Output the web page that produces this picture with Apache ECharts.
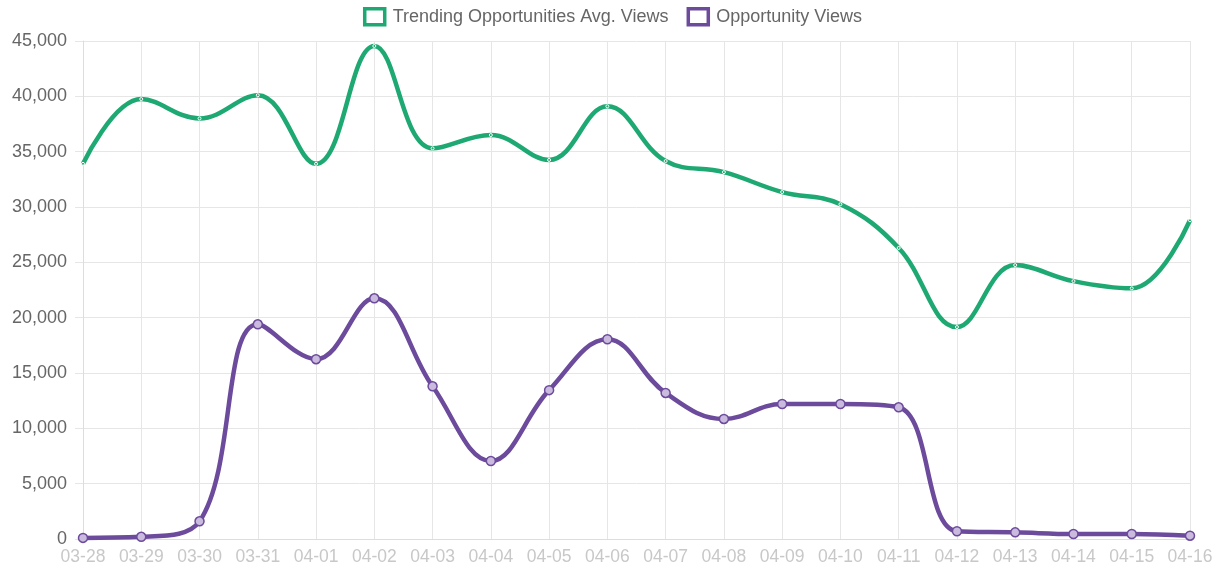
<!DOCTYPE html>
<html>
<head>
<meta charset="utf-8">
<script src="https://cdn.jsdelivr.net/npm/echarts@6/dist/echarts.min.js"></script>
<style>html,body{margin:0;padding:0;background:#fff;}#c{width:1225px;height:577px;}</style>
</head>
<body>
<div id="c"></div>
<script>
const categories = ['03-28','03-29','03-30','03-31','04-01','04-02','04-03','04-04','04-05','04-06','04-07','04-08','04-09','04-10','04-11','04-12','04-13','04-14','04-15','04-16'];
const trendingAvgViews = [33900,39750,38000,40100,33900,44550,35300,36500,34250,39100,34150,33150,31350,30250,26300,19150,24750,23300,22650,28800];
const opportunityViews = [100,200,1600,19400,16250,21750,13800,7050,13450,18050,13200,10850,12200,12200,11900,700,600,450,450,300];
const seriesNames = ['Trending Opportunities Avg. Views','Opportunity Views'];

const green = '#1ea872';
const purple = '#6c4a9c';
const font = 'Arial, Liberation Sans, sans-serif';
const chart = echarts.init(document.getElementById('c'));
chart.setOption({
  animation: false,
  legend: {
    top: 2, left: 'center', itemWidth: 20, itemHeight: 16, itemGap: 18,
    textStyle: { fontSize: 18, color: '#666', fontFamily: font, padding: [0, 0, 0, 3] },
    data: [
      { name: seriesNames[0], icon: 'rect', itemStyle: { color: '#fff', borderColor: green, borderWidth: 3.5 } },
      { name: seriesNames[1], icon: 'rect', itemStyle: { color: '#fff', borderColor: purple, borderWidth: 3.5 } }
    ]
  },
  grid: { left: 83, right: 35, top: 41, bottom: 38 },
  xAxis: {
    type: 'category', data: categories, boundaryGap: false,
    axisLine: { lineStyle: { color: '#ddd' } },
    axisTick: { show: false },
    splitLine: { show: true, lineStyle: { color: '#e6e6e6' } },
    axisLabel: { color: '#c8c8c8', fontSize: 17.5, margin: 9, fontFamily: font }
  },
  yAxis: {
    type: 'value', min: 0, max: 45000, interval: 5000,
    axisLine: { show: true, lineStyle: { color: '#ddd' } },
    axisTick: { show: true, length: 8, lineStyle: { color: '#e6e6e6' } },
    splitLine: { lineStyle: { color: '#e6e6e6' } },
    axisLabel: { color: '#666', fontSize: 18, margin: 16, fontFamily: font,
      formatter: v => v.toLocaleString('en-US') }
  },
  series: [
    {
      name: seriesNames[0], type: 'line', data: trendingAvgViews, smooth: 0.4,
      lineStyle: { color: green, width: 4.5 },
      symbol: 'circle', symbolSize: 3,
      itemStyle: { color: green, borderColor: '#fff', borderWidth: 1 }
    },
    {
      name: seriesNames[1], type: 'line', data: opportunityViews, smooth: 0.4,
      lineStyle: { color: purple, width: 4.5 },
      symbol: 'circle', symbolSize: 9, showAllSymbol: true,
      itemStyle: { color: '#c9bade', borderColor: purple, borderWidth: 1.5 }
    }
  ]
});
</script>
</body>
</html>
